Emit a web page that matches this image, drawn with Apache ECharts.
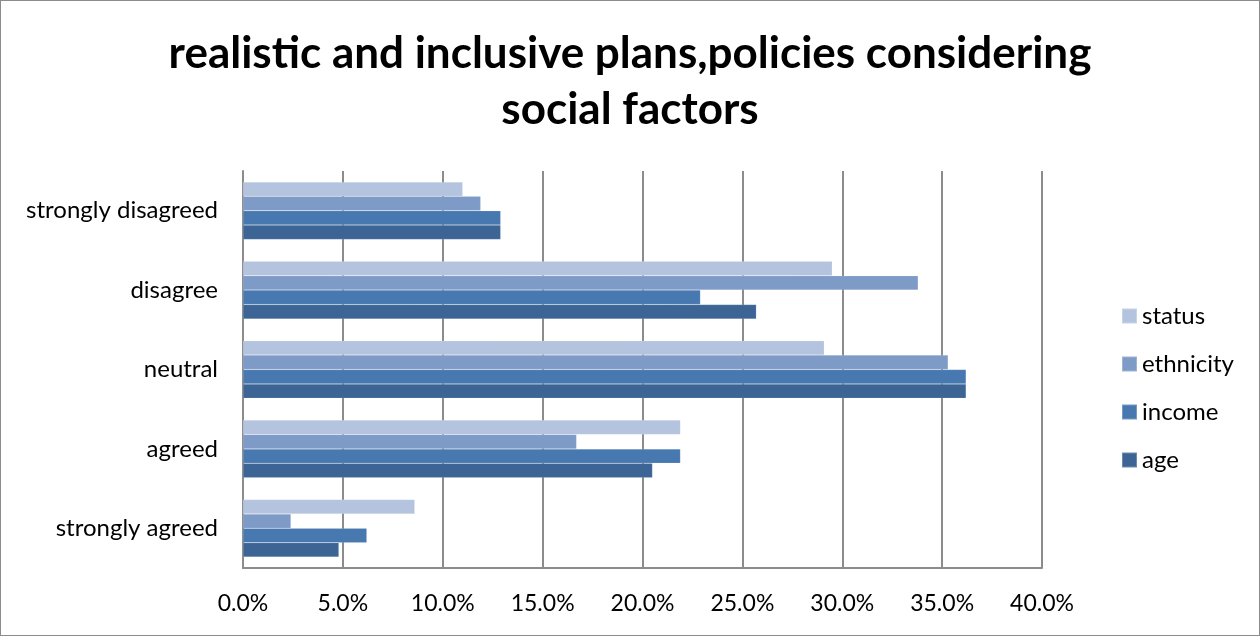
<!DOCTYPE html>
<html><head><meta charset="utf-8">
<script src="https://cdn.jsdelivr.net/npm/echarts@6/dist/echarts.min.js"></script>
<style>html,body{margin:0;padding:0;background:#fff}#c{width:1258px;height:634px;border:1px solid #8c8c8c}</style>
</head><body><div id="c"></div>
<script>
const categories = ['strongly agreed','agreed','neutral','disagree','strongly disagreed'];
const status    = [8.6, 21.9, 29.1, 29.5, 11.0];
const ethnicity = [2.4, 16.7, 35.3, 33.8, 11.9];
const income    = [6.2, 21.9, 36.2, 22.9, 12.9];
const age       = [4.8, 20.5, 36.2, 25.7, 12.9];
const xTicks = [0,5,10,15,20,25,30,35,40];
const titleText = 'realistic and inclusive plans,policies considering\nsocial factors';

const font = 'Lato, "Open Sans", sans-serif';
const chart = echarts.init(document.getElementById('c'));
const mk = (name, data, color) => ({
  name, type:'bar', data, barGap:'0%', barCategoryGap:'27.5%',
  itemStyle:{color, borderColor:'rgba(255,255,255,0.25)', borderWidth:0.5}
});
chart.setOption({
  animation:false,
  title:{text:titleText, left:'center', top:20,
    textStyle:{fontFamily:font, fontSize:44, fontWeight:'bold', color:'#000', lineHeight:56}},
  legend:{data:['status','ethnicity','income','age'], orient:'vertical', left:1115, top:298,
    itemWidth:15, itemHeight:15, itemGap:24, icon:'rect',
    textStyle:{fontFamily:font, fontSize:24, color:'#000', lineHeight:24}},
  grid:{left:242, right:217, top:170, bottom:67},
  xAxis:{type:'value', min:0, max:40, interval:5,
    axisLine:{show:true, lineStyle:{color:'#8c8c8c', width:2}},
    axisTick:{show:false},
    splitLine:{show:true, lineStyle:{color:'#8c8c8c', width:2}},
    axisLabel:{fontFamily:font, fontSize:23, color:'#000', margin:24,
      formatter:v=>v.toFixed(1)+'%'}},
  yAxis:{type:'category', data:categories,
    axisLine:{show:true, lineStyle:{color:'#8c8c8c', width:2}},
    axisTick:{show:false},
    axisLabel:{fontFamily:font, fontSize:24, color:'#000', margin:25}},
  series:[
    mk('status', status, '#b5c4de'),
    mk('ethnicity', ethnicity, '#7e9bc7'),
    mk('income', income, '#4878b0'),
    mk('age', age, '#3c6595')
  ]
});
</script></body></html>
